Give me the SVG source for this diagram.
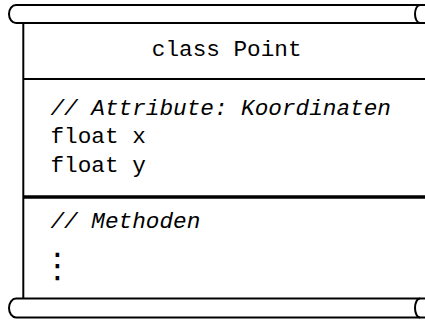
<svg xmlns="http://www.w3.org/2000/svg" width="425" height="320" viewBox="0 0 425 320">
  <style>
    .ln { fill: none; stroke: #000; stroke-width: 2; }
    .tt { font-family: "Liberation Mono", "DejaVu Sans Mono", monospace; font-size: 22.7px; fill: #000; }
    .it { font-style: italic; }
    .dots { font-family: "DejaVu Sans", sans-serif; font-size: 34px; fill: #000; }
  </style>
  <rect width="425" height="320" fill="#fff"/>
  <g id="scroll-top">
    <path class="ln" d="M427,5 H16 A7,9 0 0 0 16,23 H427"/>
    <path class="ln" d="M420,5 A5,9 0 0 0 420,23"/>
  </g>
  <g id="class-box">
    <line class="ln" x1="23.3" y1="23" x2="23.3" y2="298.5"/>
    <line class="ln" x1="23.3" y1="79" x2="427" y2="79"/>
    <line x1="23.3" y1="197" x2="427" y2="197" stroke="#000" stroke-width="3.5"/>
  </g>
  <g id="header">
    <text class="tt" x="226.7" y="56" text-anchor="middle">class Point</text>
  </g>
  <g id="attributes">
    <text class="tt it" x="50.5" y="115">// Attribute: Koordinaten</text>
    <text class="tt" x="50.5" y="143">float x</text>
    <text class="tt" x="50.5" y="171.5">float y</text>
  </g>
  <g id="methods">
    <text class="tt it" x="50.5" y="228">// Methoden</text>
    <text class="dots" x="57.5" y="277" text-anchor="middle">⋮</text>
  </g>
  <g id="scroll-bottom">
    <path class="ln" d="M427,298.5 H16 A7,9.5 0 0 0 16,317.5 H427"/>
    <path class="ln" d="M420,298.5 A5,9.5 0 0 0 420,317.5"/>
  </g>
</svg>
